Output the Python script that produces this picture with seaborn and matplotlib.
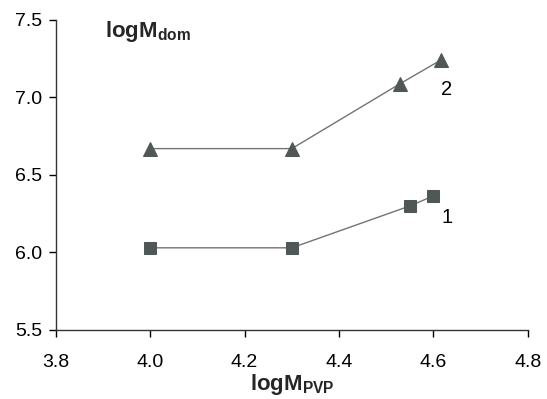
import numpy as np
import pandas as pd
import matplotlib
matplotlib.use("Agg")
import matplotlib.pyplot as plt
import seaborn as sns

# data
x_1 = [4.0, 4.3, 4.55, 4.60]
y_1 = [6.03, 6.03, 6.30, 6.365]
x_2 = [4.0, 4.3, 4.53, 4.615]
y_2 = [6.67, 6.67, 7.09, 7.24]
series_labels = ["1", "2"]
label_pos = [(4.618, 6.227), (4.616, 7.054)]
xticks = [3.8, 4.0, 4.2, 4.4, 4.6, 4.8]
yticks = [5.5, 6.0, 6.5, 7.0, 7.5]

sns.set_style("white")
plt.rcParams['font.family'] = ['Liberation Sans', 'DejaVu Sans']
plt.rcParams['mathtext.fontset'] = 'custom'
plt.rcParams['mathtext.rm'] = 'Liberation Sans'
plt.rcParams['mathtext.bf'] = 'Liberation Sans:bold'

df1 = pd.DataFrame({'x': x_1, 'y': y_1})
df2 = pd.DataFrame({'x': x_2, 'y': y_2})

fig = plt.figure(figsize=(5.47, 3.99), dpi=100)
ax = fig.add_axes([0.102, 0.173, 0.863, 0.777])

mk = '#505757'
ln = '#737373'
sns.lineplot(data=df1, x='x', y='y', ax=ax, color=ln, lw=1.0, marker='s',
             markersize=8, markerfacecolor=mk, markeredgecolor=mk, estimator=None, sort=False)
sns.lineplot(data=df2, x='x', y='y', ax=ax, color=ln, lw=1.0, marker='^',
             markersize=10.5, markerfacecolor=mk, markeredgecolor=mk, estimator=None, sort=False)

for lab, (px, py) in zip(series_labels, label_pos):
    ax.text(px, py, lab, fontsize=14.5, color='black', ha='left', va='center')

ax.set_xlim(3.8, 4.8)
ax.set_ylim(5.5, 7.5)
ax.set_xticks(xticks)
ax.set_yticks(yticks)
ax.set_xticklabels([f"{v:.1f}" for v in xticks])
ax.set_yticklabels([f"{v:.1f}" for v in yticks])
ax.tick_params(axis='x', direction='out', length=5, width=1, pad=12, labelsize=14, colors='black', bottom=True)
ax.tick_params(axis='y', direction='out', length=5, width=1, pad=5, labelsize=14, colors='black', left=True)

for s in ['top', 'right']:
    ax.spines[s].set_visible(False)
for s in ['left', 'bottom']:
    ax.spines[s].set_color('#333333')
    ax.spines[s].set_linewidth(1.0)

ax.set_xlabel(r'$\mathbf{logM_{PVP}}$', fontsize=16, labelpad=1)
ax.set_ylabel('')
ax.text(0.104, 0.946, r'$\mathbf{logM_{dom}}$', transform=ax.transAxes,
        fontsize=16, ha='left', va='baseline')

fig.savefig('out.png', dpi=100)
